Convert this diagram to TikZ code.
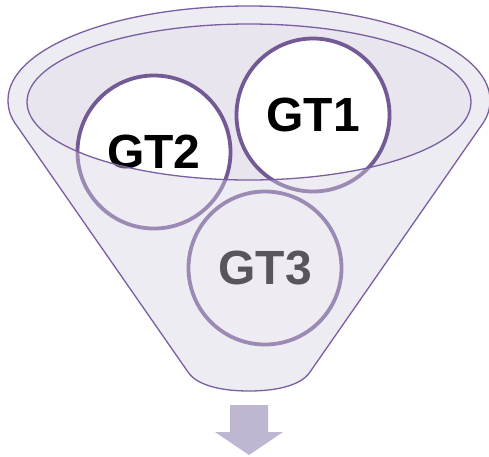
\documentclass[tikz,border=0pt]{standalone}
\usepackage{fontspec}
\setmainfont{Liberation Sans}
\usetikzlibrary{calc}

\definecolor{funnelline}{HTML}{7A5FA0}
\definecolor{ringline}{HTML}{735A95}
\definecolor{bowlfill}{HTML}{E8E5EF}
\definecolor{glass}{HTML}{D6D1E1}
\definecolor{arrowfill}{HTML}{BFB6D2}

\begin{document}
\begin{tikzpicture}[x=1pt,y=-1pt,
    ring/.style={circle,draw=ringline,line width=3.8pt,fill=white,
      minimum size=153pt,inner sep=0pt,
      font=\fontsize{48}{50}\selectfont\bfseries},
    rim/.style={draw=funnelline,line width=1.3pt}]
    \useasboundingbox (0,0) rectangle (489,456);
    \coordinate (c) at (249,102);
    \coordinate (top) at (249,100);
    % bowl seen through the mouth
    \fill[bowlfill] (c) ellipse [x radius=222,y radius=78];
    \node[ring] (gt2) at (154,152) {GT2};
    \node[ring] (gt1) at (313,115) {GT1};
    \node[ring] (gt3) at (265,268) {GT3};
    % glass front of the funnel, with the mouth cut out
    \draw[rim,fill=glass,fill opacity=0.41,even odd rule]
    ($(top)+(-241,0)$) arc [start angle=180,end angle=360,x radius=241,y radius=94]
    .. controls (490,112) and (486,119) .. (481,126) -- (310,372)
    .. controls (300,387) and (272,391) .. (249,391)
    .. controls (226,391) and (198,387) .. (188,372) -- (17,126)
    .. controls (12,119) and (8,112) .. cycle
    (c) ellipse [x radius=222,y radius=78];
    % outlet arrow
    \fill[arrowfill] (230,405) -- (268,405) -- (268,432) -- (283,432)
    -- (249,455) -- (215,432) -- (230,432) -- cycle;
\end{tikzpicture}
\end{document}
